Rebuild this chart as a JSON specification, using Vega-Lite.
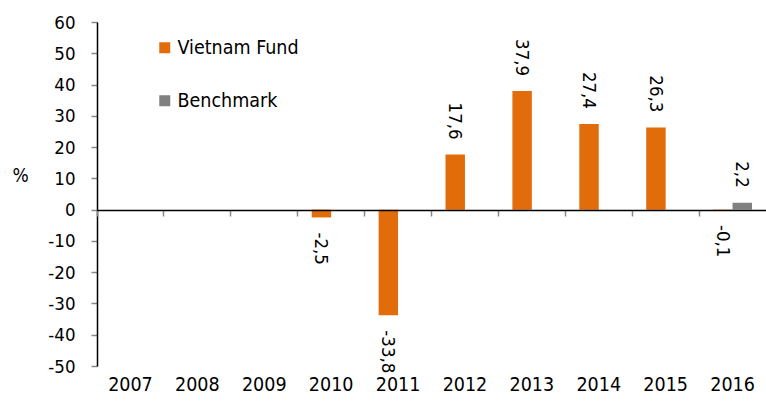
{
  "$schema": "https://vega.github.io/schema/vega-lite/v6.json",
  "width": 669,
  "height": 344,
  "autosize": "none",
  "padding": {"left": 97, "top": 22, "right": 0, "bottom": 37},
  "background": "white",
  "config": {
    "font": "DejaVu Sans Condensed, Liberation Sans, sans-serif",
    "view": {"stroke": null},
    "locale": {"number": {"decimal": ",", "thousands": ".", "grouping": [3], "currency": ["", ""], "minus": "-"}}
  },
  "data": {
    "values": [
      {"year": "2010", "series": "Vietnam Fund", "value": -2.5},
      {"year": "2011", "series": "Vietnam Fund", "value": -33.8},
      {"year": "2012", "series": "Vietnam Fund", "value": 17.6},
      {"year": "2013", "series": "Vietnam Fund", "value": 37.9},
      {"year": "2014", "series": "Vietnam Fund", "value": 27.4},
      {"year": "2015", "series": "Vietnam Fund", "value": 26.3},
      {"year": "2016", "series": "Vietnam Fund", "value": -0.1},
      {"year": "2016", "series": "Benchmark", "value": 2.2}
    ]
  },
  "encoding": {
    "x": {
      "field": "year", "type": "nominal",
      "scale": {"domain": ["2007","2008","2009","2010","2011","2012","2013","2014","2015","2016"], "paddingInner": 0, "paddingOuter": 0}
    },
    "xOffset": {"field": "series", "type": "nominal", "scale": {"domain": ["Vietnam Fund", "Benchmark"], "paddingInner": 0, "paddingOuter": 0.72}},
    "y": {
      "field": "value", "type": "quantitative",
      "scale": {"domain": [-50, 60], "nice": false, "zero": false},
      "axis": {"values": [-50,-40,-30,-20,-10,0,10,20,30,40,50,60], "labelOverlap": false, "labelBound": false, "grid": false, "domainColor": "#000000", "domainWidth": 1.5, "tickColor": "#888888", "tickSize": 6, "tickWidth": 1.5, "labelFontSize": 18.5, "labelColor": "#000000", "labelPadding": 16, "title": "%", "titleAngle": 0, "titleFontSize": 19, "titleFontWeight": "normal", "titleColor": "#000000", "titleX": -77, "titleY": 153, "titleAlign": "center", "titleBaseline": "middle"}
    }
  },
  "layer": [
    {
      "mark": {"type": "bar"},
      "encoding": {
        "x": {
          "field": "year", "type": "nominal",
          "axis": {"orient": "bottom", "title": null, "labels": false, "ticks": true, "domain": true, "domainColor": "#000000", "domainWidth": 1.5, "tickColor": "#888888", "tickSize": 6, "tickWidth": 1.5, "bandPosition": 0, "offset": -156, "zindex": 1, "grid": false}
        },
        "color": {
          "field": "series", "type": "nominal",
          "scale": {"domain": ["Vietnam Fund", "Benchmark"], "range": ["#E36C0A", "#808080"]},
          "legend": {"title": null, "orient": "none", "legendX": 58, "legendY": 16, "symbolType": "square", "symbolSize": 121, "symbolStrokeWidth": 0, "symbolOpacity": 1, "labelFontSize": 19.5, "labelColor": "#000000", "labelOffset": 3, "rowPadding": 32, "padding": 0}
        }
      }
    },
    {
      "transform": [{"filter": "datum.value >= 0"}],
      "mark": {"type": "text", "angle": 90, "align": "right", "baseline": "middle", "dx": -15, "fontSize": 18.5, "color": "#000000"},
      "encoding": {
        "x": {
          "field": "year", "type": "nominal",
          "axis": {"orient": "bottom", "title": null, "domain": false, "ticks": false, "labelAngle": 0, "labelFontSize": 19.5, "labelColor": "#000000", "labelPadding": 9, "grid": false}
        },
        "text": {"field": "value", "type": "quantitative", "format": ".1f"}
      }
    },
    {
      "transform": [{"filter": "datum.value < 0"}],
      "mark": {"type": "text", "angle": 90, "align": "left", "baseline": "middle", "dx": 15, "fontSize": 18.5, "color": "#000000"},
      "encoding": {
        "x": {"field": "year", "type": "nominal", "axis": null},
        "text": {"field": "value", "type": "quantitative", "format": ".1f"}
      }
    }
  ],
  "resolve": {"axis": {"x": "independent"}}
}
